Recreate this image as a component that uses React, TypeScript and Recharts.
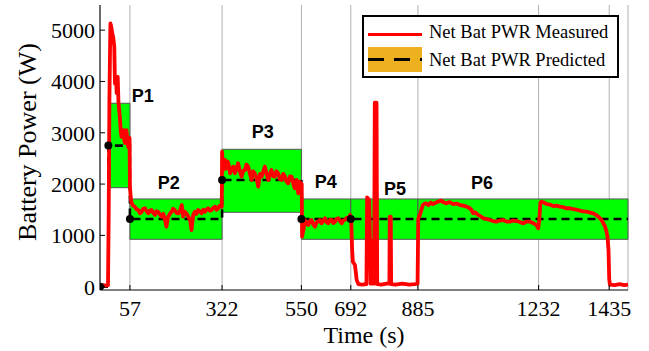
import React from 'react'
import { ComposedChart, Line, Scatter, XAxis, YAxis, CartesianGrid, ReferenceArea } from 'recharts'

// axis ticks
const xTicks = [57, 322, 550, 692, 885, 1232, 1435]
const yTicks = [0, 1000, 2000, 3000, 4000, 5000]

// predicted bands per phase
const phaseNames = ['P1', 'P2', 'P3', 'P4', 'P5', 'P6']
const bandStart = [0, 57, 322, 550, 692, 885]
const bandEnd = [57, 322, 550, 692, 885, 1489]
const bandLow = [1930, 924, 1450, 924, 924, 924]
const bandHigh = [3575, 1710, 2678, 1710, 1710, 1710]
// where the phase name sits (time, watts)
const phaseLabelT = [94, 169, 439, 620, 819, 1069]
const phaseLabelW = [3717, 2021, 3016, 2041, 1904, 2021]

// predicted net battery power, step after each point
const predicted: [number, number][] = [
  [-29, 0], [-5, 2750], [57, 1320], [322, 2080], [550, 1320], [692, 1320], [885, 1320], [1489, 1320],
]
// points of the prediction that get a marker
const predictedMarked = [-29, -5, 57, 322, 550, 692]

// measured net battery power [time s, W]
const measuredP1: [number, number][] = [
  [-29, 20], [-20, 30], [-12, 20], [-6, 30], [-4, 1400], [-2, 3600], [0, 4700], [1, 5130], [3, 5080],
  [6, 4950], [9, 4860], [12, 4680], [14, 3960], [17, 4090], [19, 3770], [22, 4090], [24, 3600],
  [26, 3450], [28, 3310], [31, 3000], [33, 2920], [36, 3000], [38, 3050], [41, 2850], [43, 2800],
  [45, 2950], [47, 3050], [50, 2850], [52, 2730], [55, 2700], [56, 2900], [57, 1950], [60, 1690],
]
const measuredP2: [number, number][] = [
  [62, 1625], [66, 1580], [71, 1560], [76, 1510], [81, 1495], [86, 1430], [91, 1460], [95, 1520],
  [100, 1530], [105, 1470], [110, 1430], [114, 1480], [119, 1495], [124, 1440], [129, 1400],
  [133, 1470], [138, 1460], [143, 1410], [148, 1365], [153, 1420], [158, 1300], [162, 1170],
  [167, 1365], [172, 1420], [177, 1460], [181, 1520], [186, 1495], [191, 1440], [196, 1430],
  [201, 1480], [206, 1590], [210, 1365], [215, 1460], [220, 1420], [225, 1365], [230, 1300],
  [234, 1105], [239, 1400], [244, 1460], [248, 1420], [253, 1495], [258, 1470], [263, 1430],
  [268, 1500], [273, 1460], [278, 1510], [282, 1530], [287, 1480], [292, 1495], [297, 1540],
  [302, 1560], [306, 1500], [311, 1530], [315, 1580], [319, 1560],
]
const measuredP3: [number, number][] = [
  [321, 1560], [322, 2630], [325, 2275], [328, 2400], [330, 2470], [333, 2300], [335, 2340],
  [338, 2440], [340, 2405], [345, 2210], [350, 2300], [354, 2340], [359, 2210], [363, 2300],
  [368, 2405], [373, 2250], [378, 2145], [383, 2260], [388, 2275], [392, 2380], [397, 2340],
  [402, 2200], [407, 2080], [411, 2250], [416, 2210], [421, 2120], [426, 1950], [431, 2200],
  [436, 2145], [441, 2260], [445, 2340], [450, 2200], [455, 2080], [459, 2200], [464, 2275],
  [469, 2150], [474, 2145], [478, 2250], [483, 2210], [488, 2100], [493, 2080], [498, 2200],
  [503, 2145], [507, 2050], [512, 2015], [517, 2150], [522, 2145], [527, 2000], [531, 1918],
  [536, 2080], [541, 1820], [544, 2050], [548, 2015], [551, 2000], [552, 975],
]
const measuredP4: [number, number][] = [
  [554, 1050], [556, 1105], [560, 1300], [565, 1250], [570, 1202], [574, 1280], [579, 1300],
  [584, 1220], [589, 1170], [594, 1260], [598, 1267], [603, 1300], [608, 1235], [613, 1290],
  [618, 1333], [622, 1260], [627, 1235], [632, 1300], [637, 1300], [642, 1240], [647, 1267],
  [651, 1320], [656, 1333], [661, 1280], [666, 1235], [670, 1290], [675, 1300], [680, 1340],
  [685, 1333], [690, 1397], [693, 1340],
]
const measuredP5: [number, number][] = [
  [696, 700], [698, 487], [704, 422], [709, 130], [714, 50], [725, 40], [737, 50], [739, 1742],
  [745, 1690], [747, 975], [749, 60], [752, 900], [754, 60], [759, 60], [761, 3587], [766, 3587],
  [768, 50], [780, 40], [795, 60], [803, 60], [804, 1365], [807, 1365], [808, 50], [820, 40],
  [840, 60], [860, 40], [876, 50], [884, 60], [886, 1320], [892, 1430], [899, 1590],
]
const measuredP6: [number, number][] = [
  [905, 1625], [909, 1625], [915, 1590], [922, 1640], [928, 1610], [940, 1650], [952, 1677],
  [960, 1640], [967, 1625], [976, 1650], [986, 1610], [996, 1620], [1006, 1592], [1015, 1580],
  [1025, 1560], [1032, 1540], [1039, 1495], [1044, 1430], [1050, 1450], [1058, 1400],
  [1066, 1370], [1073, 1333], [1082, 1320], [1092, 1300], [1101, 1280], [1111, 1267],
  [1120, 1290], [1130, 1300], [1140, 1270], [1149, 1267], [1159, 1290], [1169, 1280],
  [1178, 1260], [1188, 1235], [1197, 1270], [1207, 1267], [1216, 1240], [1226, 1202],
  [1231, 1137], [1234, 1300], [1237, 1640], [1240, 1657], [1247, 1640], [1255, 1612],
  [1264, 1600], [1274, 1572], [1283, 1580], [1293, 1560], [1303, 1550], [1313, 1527],
  [1322, 1530], [1332, 1510], [1341, 1500], [1351, 1482], [1360, 1470], [1370, 1462],
  [1380, 1445], [1389, 1430], [1397, 1400], [1404, 1365], [1409, 1330], [1413, 1300],
  [1418, 1240], [1423, 1170], [1427, 1080], [1430, 975], [1433, 715], [1435, 150], [1437, 40],
  [1450, 30], [1465, 50], [1478, 30], [1489, 40],
]

const toPts = (arr: [number, number][]) => arr.map(([t, v]) => ({ t, v }))
const measured = toPts([...measuredP1, ...measuredP2, ...measuredP3, ...measuredP4, ...measuredP5, ...measuredP6])
const predictedPts = toPts(predicted)
const dotPts = predictedPts.filter(p => predictedMarked.includes(p.t))
const labelPts = phaseNames.map((name, i) => ({ t: phaseLabelT[i], v: phaseLabelW[i], name }))

const serif = '"Liberation Serif", "Times New Roman", serif'
const sans = '"Liberation Sans", Arial, sans-serif'

function PhaseLabel(props: any) {
  return (
    <text x={props.cx} y={props.cy} textAnchor="middle" dominantBaseline="central"
      fontFamily={sans} fontWeight="bold" fontSize={18} fill="#000">
      {props.payload.name}
    </text>
  )
}

function Dot(props: any) {
  return <circle cx={props.cx} cy={props.cy} r={4} fill="#000" />
}

export default function App() {
  const tickStyle = { fontFamily: serif, fontSize: 22, fill: '#000' }
  return (
    <div style={{ position: 'fixed', left: 0, top: 0, width: 649, height: 351, background: '#fff' }}>
      <ComposedChart width={649} height={351} margin={{ top: 5, right: 21, bottom: 0, left: 0 }}>
        <CartesianGrid horizontal={false} stroke="#8c8c8c" strokeWidth={0.7} />
        <XAxis dataKey="t" type="number" domain={[-29, 1489]} ticks={xTicks} allowDataOverflow
          height={61} tickSize={-5} tickMargin={15} tick={tickStyle} stroke="#000"
          label={{ content: () => (
            <text x={364} y={343} textAnchor="middle" fontFamily={serif} fontSize={24} fill="#000">Time (s)</text>
          ) }} />
        <XAxis xAxisId="top" orientation="top" type="number" domain={[-29, 1489]} ticks={xTicks}
          allowDataOverflow height={0} tickSize={-5} tick={false} stroke="#000" />
        <YAxis type="number" domain={[-64, 5490]} ticks={yTicks} allowDataOverflow width={100}
          tickSize={-5} tickMargin={10} tick={tickStyle} stroke="#000"
          label={{ content: () => (
            <text x={27} y={142} transform="rotate(-90 27 142)" textAnchor="middle" dominantBaseline="central"
              fontFamily={serif} fontSize={26} fill="#000">Battery Power (W)</text>
          ) }} />
        <YAxis yAxisId="right" orientation="right" type="number" domain={[-64, 5490]} ticks={yTicks}
          allowDataOverflow width={0} tickSize={-5} tick={false} stroke="#000" />
        {phaseNames.map((p, i) => (
          <ReferenceArea key={p} x1={bandStart[i]} x2={bandEnd[i]} y1={bandLow[i]} y2={bandHigh[i]}
            fill="#00ff00" fillOpacity={1} stroke="#555" strokeWidth={1} />
        ))}
        <Line data={predictedPts} dataKey="v" type="stepAfter" stroke="#000" strokeWidth={2.6}
          strokeDasharray="8 5" dot={false} isAnimationActive={false} />
        <Scatter data={dotPts} dataKey="v" shape={<Dot />} isAnimationActive={false} />
        <Line data={measured} dataKey="v" type="linear" stroke="#ff0000" strokeWidth={3.8}
          strokeLinejoin="round" dot={false} isAnimationActive={false} />
        <Scatter data={labelPts} dataKey="v" shape={<PhaseLabel />} isAnimationActive={false} />
      </ComposedChart>
      <div style={{ position: 'absolute', left: 362, top: 15, width: 253, height: 59, border: '2px solid #000',
        background: '#fff', fontFamily: serif, fontSize: 18.5, color: '#000' }}>
        <div style={{ position: 'absolute', left: 4, top: 16, width: 54, height: 3, background: '#ff0000' }} />
        <div style={{ position: 'absolute', left: 65, top: 5, whiteSpace: 'nowrap' }}>Net Bat PWR Measured</div>
        <div style={{ position: 'absolute', left: 4, top: 30, width: 54, height: 25, background: '#EDB120' }}>
          <div style={{ position: 'absolute', left: 0, top: 11, width: 54, height: 3,
            background: 'repeating-linear-gradient(90deg, #000 0 16px, transparent 16px 26px)' }} />
        </div>
        <div style={{ position: 'absolute', left: 65, top: 33, whiteSpace: 'nowrap' }}>Net Bat PWR Predicted</div>
      </div>
    </div>
  )
}
